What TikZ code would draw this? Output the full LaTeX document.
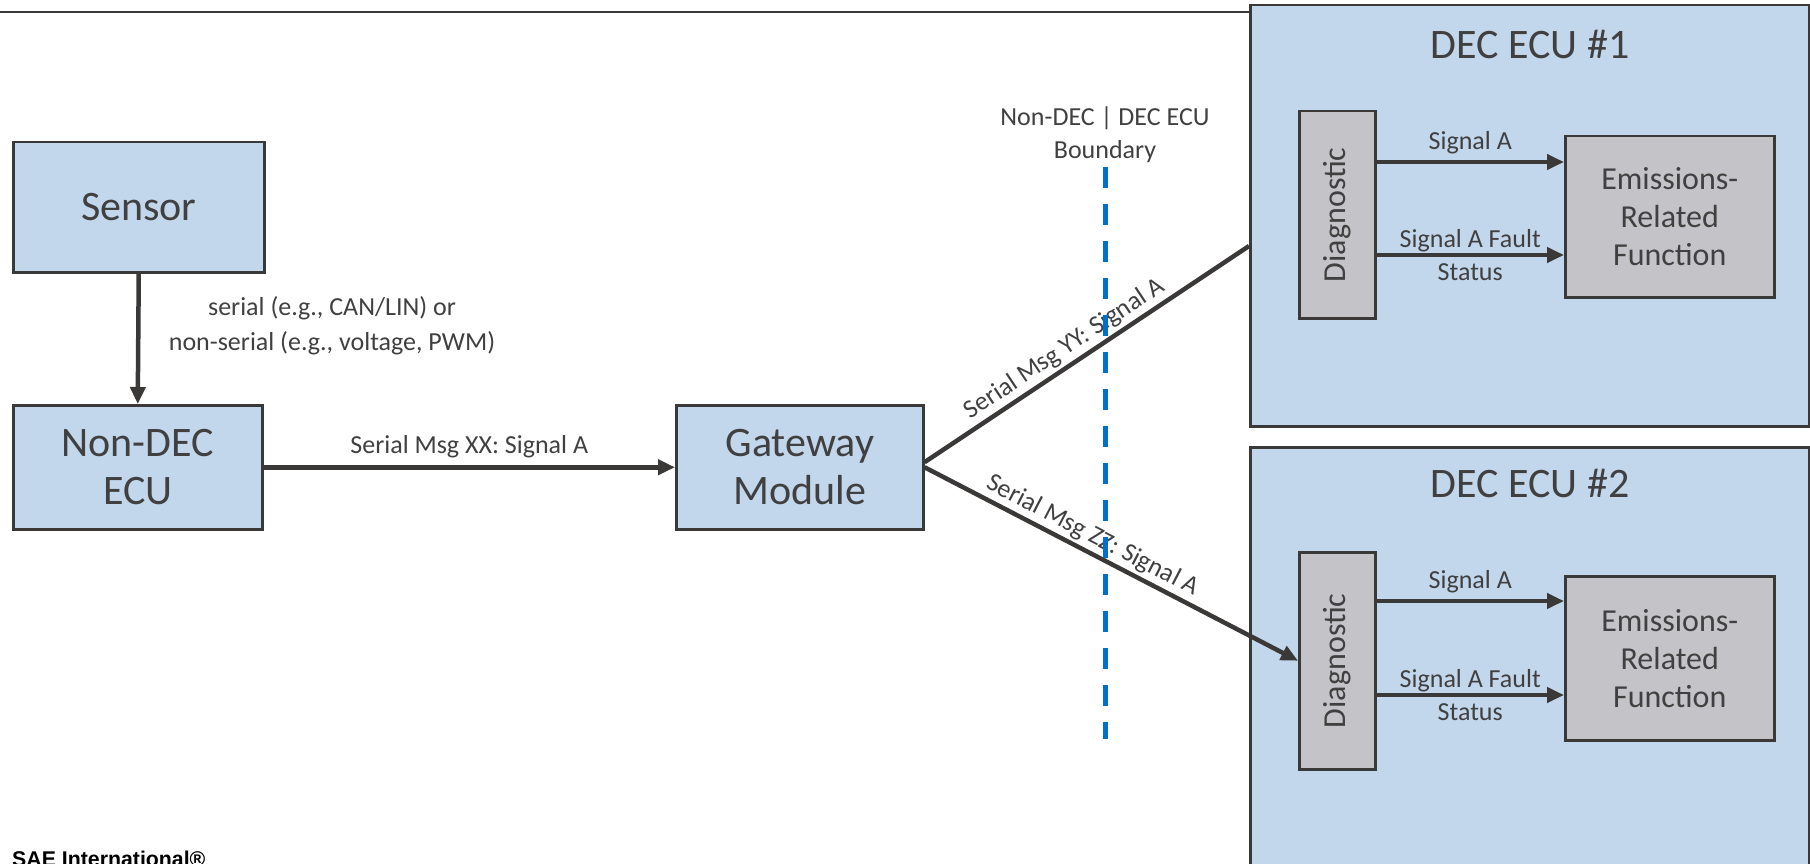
\documentclass[tikz,border=0pt]{standalone}
\usepackage{fontspec}
\setmainfont{Carlito}
\newfontfamily\saefont{Liberation Sans}
\usetikzlibrary{arrows.meta,calc}
\definecolor{boxblue}{RGB}{194,214,236}
\definecolor{boxgray}{RGB}{196,196,200}
\definecolor{linegray}{RGB}{59,56,56}
\definecolor{txtgray}{RGB}{64,64,64}
\definecolor{dashblue}{RGB}{0,112,204}
\begin{document}
\begin{tikzpicture}[x=1pt,y=-1pt,
  bluebox/.style={draw=linegray, line width=2.5pt, fill=boxblue, inner sep=0pt, anchor=north west, text=txtgray, align=center},
  graybox/.style={draw=linegray, line width=2.5pt, fill=boxgray, inner sep=0pt, anchor=north west, text=txtgray, align=center},
  bigtxt/.style={font=\fontsize{42}{48}\selectfont},
  midtxt/.style={font=\fontsize{32}{38}\selectfont},
  smalltxt/.style={font=\fontsize{26}{33}\selectfont, text=txtgray, align=center, inner sep=2pt},
  conn/.style={draw=linegray, line width=4.5pt},
  arr/.style={conn, -{Triangle[length=17pt,width=15pt]}},
]
\useasboundingbox (0,0) rectangle (1810,864);

% left nodes
\node[bluebox, bigtxt, minimum width=251pt, minimum height=130pt] (sensor) at (12,141) {Sensor};
\node[bluebox, bigtxt, minimum width=249pt, minimum height=124pt] (ndec) at (12,404) {Non-DEC\\ECU};
\node[bluebox, bigtxt, minimum width=247pt, minimum height=124pt] (gw) at (675,404) {Gateway\\Module};

% DEC ECU containers
\node[bluebox, minimum width=559pt, minimum height=421pt] (dec1) at (1249,4) {};
\node[bluebox, minimum width=559pt, minimum height=440pt] (dec2) at (1249,446) {};
\node[bigtxt, text=txtgray] (dec1t) at (1530,44) {DEC ECU \#1};
\node[bigtxt, text=txtgray] (dec2t) at (1530,483) {DEC ECU \#2};

% inner boxes
\node[graybox, midtxt, minimum width=76pt, minimum height=207pt] (diag1) at (1298,110) {\rotatebox{90}{Diagnostic}};
\node[graybox, midtxt, minimum width=209pt, minimum height=161pt] (emis1) at (1564,135) {Emissions-\\Related\\Function};
\node[graybox, midtxt, minimum width=76pt, minimum height=217pt] (diag2) at (1298,551) {\rotatebox{90}{Diagnostic}};
\node[graybox, midtxt, minimum width=209pt, minimum height=164pt] (emis2) at (1564,575) {Emissions-\\Related\\Function};

% top rule
\coordinate (tl) at (0,12);
\draw[linegray, line width=1.5pt] (tl) -- (tl -| dec1.west);

% sensor -> non-DEC
\draw[arr] (sensor.south) -- (ndec.north);
\node[smalltxt, font=\fontsize{26}{35}\selectfont] (serlbl) at (332,326) {serial (e.g., CAN/LIN) or\\non-serial (e.g., voltage, PWM)};

% non-DEC -> gateway
\draw[arr] (ndec.east) -- (gw.west) node[midway, above=5pt, smalltxt] {Serial Msg XX: Signal A};

% gateway -> DEC ECU #1 and Diagnostic #2
\coordinate (yyend) at (1249,246);
\draw[conn] ($(gw.east)+(0,-5)$) -- (yyend) node[pos=0.46, sloped, above=1pt, smalltxt] {Serial Msg YY: Signal A};
\draw[arr] (gw.east) -- (diag2.west) node[pos=0.43, sloped, above=1pt, smalltxt] {Serial Msg ZZ: Signal A};

% internal arrows ECU 1
\coordinate (s1a) at ($(diag1.north east)+(0,52)$);
\draw[arr] (s1a) -- (s1a -| emis1.west) node[midway, above=4pt, smalltxt] {Signal A};
\coordinate (s1b) at ($(diag1.north east)+(0,145)$);
\draw[arr] (s1b) -- (s1b -| emis1.west) node[midway, smalltxt] {Signal A Fault\\Status};

% internal arrows ECU 2
\coordinate (s2a) at ($(diag2.north east)+(0,50)$);
\draw[arr] (s2a) -- (s2a -| emis2.west) node[midway, above=4pt, smalltxt] {Signal A};
\coordinate (s2b) at ($(diag2.north east)+(0,144)$);
\draw[arr] (s2b) -- (s2b -| emis2.west) node[midway, smalltxt] {Signal A Fault\\Status};

% boundary
\coordinate (bt) at (1105,167);
\coordinate (bb) at (1105,739);
\draw[dashblue, line width=5pt, dash pattern=on 21pt off 16pt] (bt) -- (bb);
\node[smalltxt] (blbl) at (1105,135) {Non-DEC | DEC ECU\\Boundary};

% footer
\node[font=\saefont\bfseries\fontsize{21.3}{25}\selectfont, anchor=base west, inner sep=0pt] (sae) at (12,866) {SAE International®};
\end{tikzpicture}
\end{document}
